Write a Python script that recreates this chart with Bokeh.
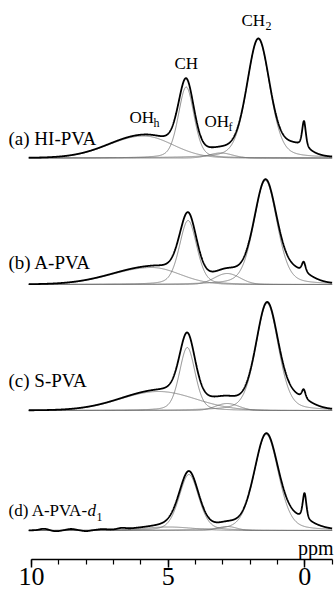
import numpy as np
from bokeh.plotting import figure
from bokeh.models import Range1d, LinearAxis, FixedTicker
from bokeh.core.properties import value
from bokeh.embed import file_html
from bokeh.resources import INLINE

# ---------------- data ----------------
# fitted peak components per spectrum: OHh, CH, OHf, CH2 (drawn) + unresolved tail and 0 ppm line (not drawn)
component_names = ["OHh", "CH", "OHf", "CH2", "tail", "ref"]
component_drawn = [True, True, True, True, False, False]

a_center = [5.90, 4.34, 3.08, 1.70, 0.35, 0.03]
a_height = [22, 71, 5, 119, 10, 26]
a_fwhm_hi = [3.0, 0.68, 1.0, 1.0, 1.1, 0.16]
a_fwhm_lo = [2.5, 0.68, 1.0, 1.0, 1.1, 0.16]
a_lorentz = [0.0, 0.3, 0.0, 0.3, 0.0, 0.5]

b_center = [5.60, 4.27, 2.84, 1.44, 0.30, 0.04]
b_height = [17, 64, 11, 104, 10, 10]
b_fwhm_hi = [3.4, 0.75, 1.1, 1.0, 1.2, 0.16]
b_fwhm_lo = [2.4, 0.75, 1.1, 1.0, 1.2, 0.16]
b_lorentz = [0.0, 0.3, 0.0, 0.3, 0.0, 0.5]

c_center = [5.35, 4.30, 2.84, 1.38, 0.30, 0.04]
c_height = [19, 63, 7, 107, 9, 9]
c_fwhm_hi = [3.3, 0.68, 1.0, 0.98, 1.2, 0.16]
c_fwhm_lo = [3.2, 0.68, 1.0, 0.98, 1.2, 0.16]
c_lorentz = [0.0, 0.3, 0.0, 0.3, 0.0, 0.5]

d_center = [5.00, 4.24, 2.84, 1.41, 0.25, 0.01]
d_height = [3.5, 56, 4, 96, 8, 26]
d_fwhm_hi = [2.2, 0.85, 0.8, 1.05, 1.3, 0.16]
d_fwhm_lo = [2.2, 0.85, 0.8, 1.05, 1.3, 0.16]
d_lorentz = [0.0, 0.3, 0.0, 0.3, 0.0, 0.5]
# baseline ripple of spectrum (d)
d_ripple_center = [9.55, 9.1, 8.55, 8.0, 7.4, 6.7]
d_ripple_height = [1.5, -1.0, 1.2, -1.0, 0.8, 1.2]

trace_labels = ["(a) HI-PVA", "(b) A-PVA", "(c) S-PVA", "(d) A-PVA-"]
tick_values = [0, 5, 10]
minor_tick_values = [-1, 0, 1, 2, 3, 4, 5, 6, 7, 8, 9, 10]

# ---------------- layout constants ----------------
W, H = 335, 597
AXIS_Y = 559
baselines = [157.5, 284, 410, 530]
ppm = np.linspace(10.1, -1.0, 1500)


def px_to_ppm(px):
    return (304.3 - px) / 27.33


def shape(x, c, h, w_hi, w_lo, eta):
    w = np.where(x >= c, w_hi, w_lo)
    d = x - c
    lor = 1.0 / (1.0 + (2 * d / w) ** 2)
    gau = np.exp(-4 * np.log(2) * (d / w) ** 2)
    return h * (eta * lor + (1 - eta) * gau)


spectra = [
    (a_center, a_height, a_fwhm_hi, a_fwhm_lo, a_lorentz),
    (b_center, b_height, b_fwhm_hi, b_fwhm_lo, b_lorentz),
    (c_center, c_height, c_fwhm_hi, c_fwhm_lo, c_lorentz),
    (d_center, d_height, d_fwhm_hi, d_fwhm_lo, d_lorentz),
]

p = figure(width=W, height=H, output_backend="svg", toolbar_location=None,
           x_range=Range1d(px_to_ppm(0), px_to_ppm(W)),
           y_range=Range1d(AXIS_Y, 0),
           x_axis_location=None, y_axis_location=None,
           min_border_left=0, min_border_right=0, min_border_top=0,
           min_border_bottom=H - AXIS_Y)
p.outline_line_color = None
p.grid.visible = False
p.background_fill_color = "white"
p.border_fill_color = "white"

THIN = "#707070"
for i, (cen, hgt, whi, wlo, eta) in enumerate(spectra):
    base = baselines[i]
    total = np.zeros_like(ppm)
    comps = []
    for j in range(len(cen)):
        comp = shape(ppm, cen[j], hgt[j], whi[j], wlo[j], eta[j])
        total += comp
        if component_drawn[j]:
            comps.append(comp)
    if i == 3:
        for rc, rh in zip(d_ripple_center, d_ripple_height):
            total += shape(ppm, rc, rh, 0.35, 0.35, 0.0)
    for comp in comps:
        p.line(ppm, base - comp, line_color=THIN, line_width=0.8)
    p.line(ppm, base - total, line_color="black", line_width=1.8)

SERIF = value("Liberation Serif")

# trace labels
label_y = [138, 262, 380, 510]
label_size = ["19px", "19px", "19px", "17px"]
for lab, ly, fs in zip(trace_labels, label_y, label_size):
    p.text(x=[px_to_ppm(8)], y=[ly], text=[lab], text_font=SERIF, text_font_size=fs,
           text_align="left", text_baseline="middle", text_color="black")
# italic d and subscript 1 for (d)
p.text(x=[px_to_ppm(87)], y=[510], text=["d"], text_font=SERIF, text_font_size="17px",
       text_font_style="italic", text_align="left", text_baseline="middle", text_color="black")
p.text(x=[px_to_ppm(96)], y=[516], text=["1"], text_font=SERIF, text_font_size="12px",
       text_align="left", text_baseline="middle", text_color="black")

# peak labels for (a)
peak_main = ["CH", "CH", "OH", "OH"]
peak_sub = ["", "2", "h", "f"]
peak_left_px = [174, 241, 129, 204]
peak_y = [63, 20, 117, 121]
for m, s, lx, ly in zip(peak_main, peak_sub, peak_left_px, peak_y):
    p.text(x=[px_to_ppm(lx)], y=[ly], text=[m], text_font=SERIF, text_font_size="17px",
           text_align="left", text_baseline="middle", text_color="black")
    if s:
        p.text(x=[px_to_ppm(lx + 24)], y=[ly + 5], text=[s], text_font=SERIF, text_font_size="12px",
               text_align="left", text_baseline="middle", text_color="black")

# ppm unit label
p.text(x=[px_to_ppm(333)], y=[547], text=["ppm"], text_font=SERIF, text_font_size="20px",
       text_align="right", text_baseline="alphabetic", text_color="black")

# x axis
xaxis = LinearAxis(ticker=FixedTicker(ticks=tick_values, minor_ticks=minor_tick_values),
                   bounds=(-1, 10))
xaxis.axis_line_color = "black"
xaxis.axis_line_width = 1.5
xaxis.major_tick_line_color = "black"
xaxis.major_tick_line_width = 1.5
xaxis.major_tick_in = 0
xaxis.major_tick_out = 8
xaxis.minor_tick_line_color = "black"
xaxis.minor_tick_line_width = 1.2
xaxis.minor_tick_in = 0
xaxis.minor_tick_out = 5
xaxis.major_label_text_font = "Liberation Serif"
xaxis.major_label_text_font_size = "26px"
xaxis.major_label_text_color = "black"
xaxis.major_label_standoff = 0
p.add_layout(xaxis, "below")

open("out.html", "w").write(file_html(p, INLINE))
